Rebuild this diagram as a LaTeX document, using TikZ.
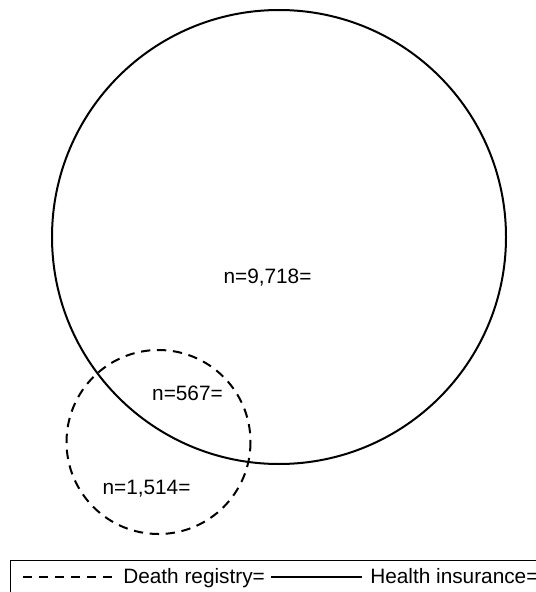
\documentclass[tikz,border=0pt]{standalone}
\usepackage{fontspec}
\setmainfont{Liberation Sans}
\usetikzlibrary{positioning}
\tikzset{
  healthline/.style={black,line width=1.5pt},
  deathline/.style={black,line width=1.5pt,dash pattern=on 7pt off 5pt},
  countlabel/.style={font=\fontsize{15.6}{18}\selectfont,inner sep=0pt,anchor=base},
  legendlabel/.style={font=\fontsize{15.6}{18}\selectfont,inner sep=0pt,anchor=base west}
}
\begin{document}
\begin{tikzpicture}[x=0.75pt,y=-0.75pt]
  \useasboundingbox (0,0) rectangle (535,592);
  % Health insurance
  \coordinate (hcenter) at (279,237);
  \draw[healthline] (hcenter) circle[radius=227];
  % Death registry
  \coordinate (dcenter) at (158.5,442);
  \draw[deathline] (dcenter) circle[radius=92];
  % Counts
  \node[countlabel] (nhealth) at (267.5,283) {n=9,718=};
  \node[countlabel] (nboth) at (187.5,400) {n=567=};
  \node[countlabel] (ndeath) at (146.5,494) {n=1,514=};
  % Legend
  \draw[black,line width=0.75pt] (10,600) -- (10,560) -- (545,560);
  \coordinate (dr-a) at (23,577);
  \coordinate (dr-b) at (113,577);
  \draw[deathline] (dr-a) -- (dr-b);
  \node[legendlabel] (drlabel) at (123,583) {Death registry=};
  \coordinate (hi-a) at (271,577);
  \coordinate (hi-b) at (362,577);
  \draw[healthline] (hi-a) -- (hi-b);
  \node[legendlabel] (hilabel) at (370,583) {Health insurance=};
\end{tikzpicture}
\end{document}
